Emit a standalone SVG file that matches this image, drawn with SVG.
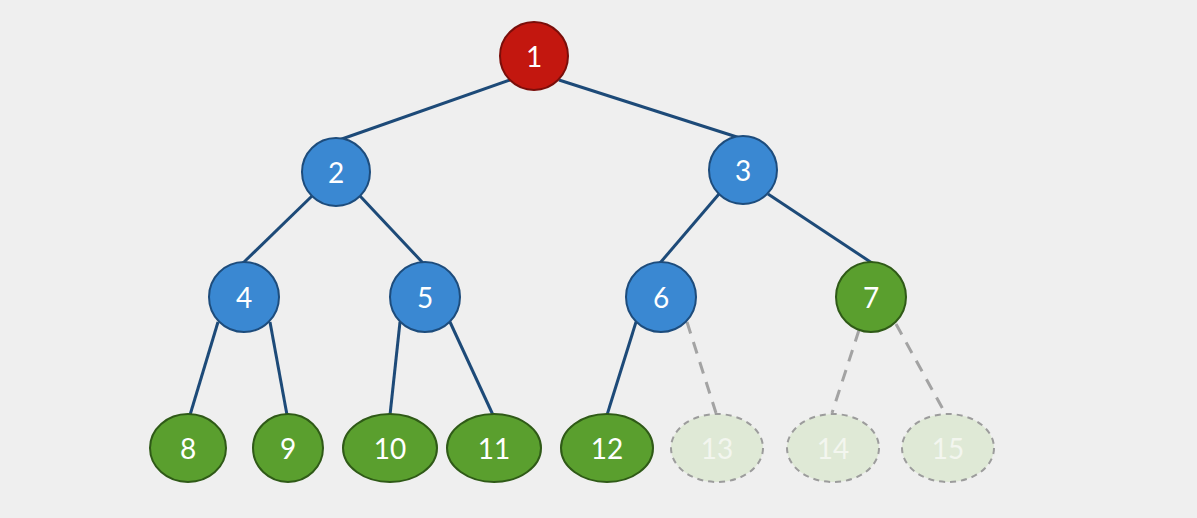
<svg xmlns="http://www.w3.org/2000/svg" width="1197" height="518" viewBox="0 0 1197 518">
<style>
.edge{stroke:#1d4a78;stroke-width:3;fill:none}
.ghost-edge{stroke:#a3a3a3;stroke-width:3;stroke-dasharray:12 9;fill:none}
.red{fill:#c3170f;stroke:#7a0e0a;stroke-width:2}
.blue{fill:#3a88d2;stroke:#1d4c7c;stroke-width:2}
.green{fill:#5a9f2e;stroke:#2f5a17;stroke-width:2}
.ghost{fill:#dfe9d6;stroke:#9c9c9c;stroke-width:2;stroke-dasharray:6 5}
.lbl{font-family:Lato,"Open Sans",sans-serif;font-size:28px;fill:#ffffff;text-anchor:middle;dominant-baseline:central}
.glbl{font-family:Lato,"Open Sans",sans-serif;font-size:28px;fill:#f3f6ef;text-anchor:middle;dominant-baseline:central}
</style>
<rect width="1197" height="518" fill="#efefef"/>
<g id="connectors">
<line class="edge" x1="510" y1="80" x2="339" y2="140"/>
<line class="edge" x1="559" y1="80" x2="740" y2="138"/>
<line class="edge" x1="312" y1="196" x2="243" y2="263"/>
<line class="edge" x1="360" y1="196" x2="423" y2="263"/>
<line class="edge" x1="719" y1="194" x2="660" y2="263"/>
<line class="edge" x1="768" y1="194" x2="872" y2="263"/>
<line class="edge" x1="218" y1="322" x2="190" y2="415"/>
<line class="edge" x1="270" y1="322" x2="287" y2="415"/>
<line class="edge" x1="400" y1="322" x2="390" y2="415"/>
<line class="edge" x1="450" y1="322" x2="493" y2="415"/>
<line class="edge" x1="636" y1="322" x2="607" y2="415"/>
<line class="ghost-edge" x1="687" y1="322" x2="716" y2="413"/>
<line class="ghost-edge" x1="859" y1="330" x2="832" y2="413"/>
<line class="ghost-edge" x1="896" y1="324" x2="945" y2="413"/>
</g>
<g id="n1"><circle class="red" cx="534" cy="56" r="34"/><text class="lbl" x="534" y="56">1</text></g>
<g id="n2"><circle class="blue" cx="336" cy="172" r="34"/><text class="lbl" x="336" y="172">2</text></g>
<g id="n3"><circle class="blue" cx="743" cy="170" r="34"/><text class="lbl" x="743" y="170">3</text></g>
<g id="n4"><circle class="blue" cx="244" cy="297" r="35"/><text class="lbl" x="244" y="297">4</text></g>
<g id="n5"><circle class="blue" cx="425" cy="297" r="35"/><text class="lbl" x="425" y="297">5</text></g>
<g id="n6"><circle class="blue" cx="661" cy="297" r="35"/><text class="lbl" x="661" y="297">6</text></g>
<g id="n7"><circle class="green" cx="871" cy="297" r="35"/><text class="lbl" x="871" y="297">7</text></g>
<g id="n8"><ellipse class="green" cx="188" cy="448" rx="38" ry="34"/><text class="lbl" x="188" y="448">8</text></g>
<g id="n9"><ellipse class="green" cx="288" cy="448" rx="35" ry="34"/><text class="lbl" x="288" y="448">9</text></g>
<g id="n10"><ellipse class="green" cx="390" cy="448" rx="47" ry="34"/><text class="lbl" x="390" y="448">10</text></g>
<g id="n11"><ellipse class="green" cx="494" cy="448" rx="47" ry="34"/><text class="lbl" x="494" y="448">11</text></g>
<g id="n12"><ellipse class="green" cx="607" cy="448" rx="46" ry="34"/><text class="lbl" x="607" y="448">12</text></g>
<g id="n13"><ellipse class="ghost" cx="717" cy="448" rx="46" ry="34"/><text class="glbl" x="717" y="448">13</text></g>
<g id="n14"><ellipse class="ghost" cx="833" cy="448" rx="46" ry="34"/><text class="glbl" x="833" y="448">14</text></g>
<g id="n15"><ellipse class="ghost" cx="948" cy="448" rx="46" ry="34"/><text class="glbl" x="948" y="448">15</text></g>
</svg>
